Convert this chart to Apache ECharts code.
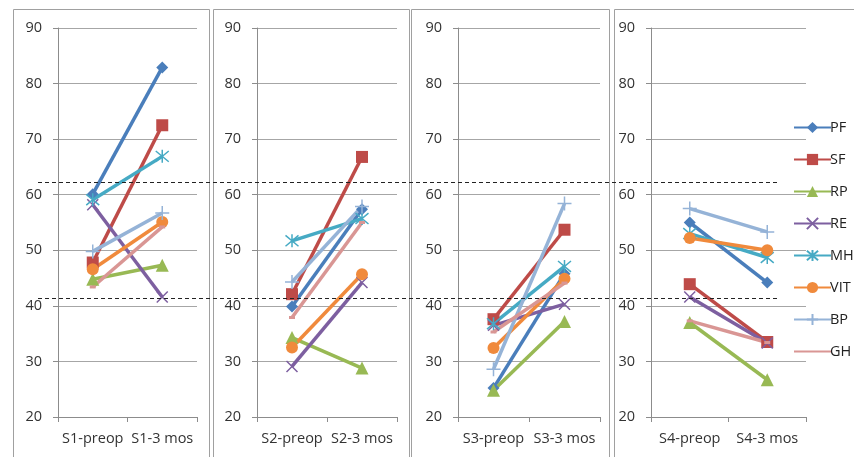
<!DOCTYPE html>
<html>
<head>
<meta charset="utf-8">
<title>SF-36 domains, pre-op vs 3 months</title>
<script src="https://cdn.jsdelivr.net/npm/echarts@6/dist/echarts.min.js"></script>
<style>
  html, body { margin: 0; padding: 0; background: #ffffff; }
  #chart { width: 854px; height: 457px; }
</style>
</head>
<body>
<div id="chart"></div>
<script>
// Category labels for each subject panel
const panelCategories = [
  ['S1-preop', 'S1-3 mos'],
  ['S2-preop', 'S2-3 mos'],
  ['S3-preop', 'S3-3 mos'],
  ['S4-preop', 'S4-3 mos']
];

// Y-axis ticks
const yTicks = [20, 30, 40, 50, 60, 70, 80, 90];

// Domain scores, one [preop, 3 mos] pair per subject (S1..S4)
const PF  = [[60.1, 82.9], [39.9, 57.4], [25.2, 45.8], [55.0, 44.2]];
const SF  = [[47.8, 72.5], [42.1, 66.8], [37.6, 53.7], [43.9, 33.5]];
const RP  = [[44.8, 47.3], [34.3, 28.8], [24.8, 37.2], [37.0, 26.7]];
const RE  = [[58.2, 41.6], [29.1, 44.2], [36.5, 40.3], [41.6, 33.3]];
const MH  = [[59.1, 66.9], [51.7, 55.7], [36.8, 47.1], [53.0, 48.7]];
const VIT = [[46.6, 55.1], [32.5, 45.7], [32.4, 44.9], [52.2, 50.0]];
const BP  = [[49.8, 56.7], [44.3, 57.9], [28.6, 58.4], [57.5, 53.3]];
const GH  = [[43.4, 54.2], [37.9, 55.0], [35.3, 44.1], [37.3, 33.4]];

// Reference band limits drawn as dashed lines
const referenceLevels = [62.3, 41.5];

const domains = [
  { name: 'PF',  data: PF,  color: '#4A7EBB', symbol: 'diamond',  size: 12 },
  { name: 'SF',  data: SF,  color: '#BE4B48', symbol: 'rect',     size: 12 },
  { name: 'RP',  data: RP,  color: '#98B954', symbol: 'triangle', size: 13 },
  { name: 'RE',  data: RE,  color: '#7D5FA0', symbol: 'path://M0,0L10,10M10,0L0,10', size: 11, stroke: true },
  { name: 'MH',  data: MH,  color: '#46AAC4', symbol: 'path://M0,0L10,10M10,0L0,10M5,-1L5,11', size: 13, stroke: true },
  { name: 'VIT', data: VIT, color: '#F08A3C', symbol: 'circle',   size: 12 },
  { name: 'BP',  data: BP,  color: '#95B3D7', symbol: 'path://M5,0L5,10M0,5L10,5', size: 14, stroke: true },
  { name: 'GH',  data: GH,  color: '#D99694', symbol: 'rect',     size: [6, 3], plainLegend: true }
];

// Plot areas of the four panels
const gridBoxes = [
  { left: 58,  top: 28, width: 139, height: 389 },
  { left: 257, top: 28, width: 140, height: 389 },
  { left: 458, top: 28, width: 142, height: 389 },
  { left: 651, top: 28, width: 155, height: 389 }
];

// Outer frames of the panels
const panelFrames = [
  { x: 13.5,  y: 9.5, w: 196, h: 470 },
  { x: 213.5, y: 9.5, w: 196, h: 470 },
  { x: 411.5, y: 9.5, w: 198, h: 470 },
  { x: 614.5, y: 9.5, w: 260, h: 470 }
];

const FONT = 'Open Sans, Noto Sans, sans-serif';
const chart = echarts.init(document.getElementById('chart'), null, { renderer: 'canvas' });

const grids = gridBoxes.map(g => Object.assign({ containLabel: false }, g));

const xAxes = panelCategories.map((cats, i) => ({
  type: 'category',
  gridIndex: i,
  data: cats,
  boundaryGap: true,
  axisLine: { show: true, lineStyle: { color: '#8c8c8c', width: 1 } },
  axisTick: { show: true, length: 5, lineStyle: { color: '#8c8c8c' } },
  axisLabel: { color: '#333', fontSize: 14.5, fontFamily: FONT, margin: 14, interval: 0 },
  splitLine: { show: false }
}));

const yAxes = panelCategories.map((_, i) => ({
  type: 'value',
  gridIndex: i,
  min: yTicks[0],
  max: yTicks[yTicks.length - 1],
  interval: yTicks[1] - yTicks[0],
  axisLine: { show: true, lineStyle: { color: '#8c8c8c', width: 1 } },
  axisTick: { show: true, length: 5, lineStyle: { color: '#8c8c8c' } },
  axisLabel: { color: '#333', fontSize: 14.5, fontFamily: FONT, margin: 16 },
  splitLine: { show: true, lineStyle: { color: '#a6a6a6', width: 1 } }
}));

const series = [];
panelCategories.forEach((_, p) => {
  domains.forEach(d => {
    series.push({
      type: 'line',
      name: d.name,
      xAxisIndex: p,
      yAxisIndex: p,
      data: d.data[p],
      symbol: d.symbol,
      symbolSize: d.size,
      lineStyle: { color: d.color, width: 3.5 },
      itemStyle: d.stroke
        ? { color: d.color, borderColor: d.color, borderWidth: 1.5 }
        : { color: d.color, borderWidth: 0 },
      emphasis: { disabled: true },
      z: 3
    });
  });
});

const frameGraphics = panelFrames.map(f => ({
  type: 'rect',
  shape: { x: f.x, y: f.y, width: f.w, height: f.h },
  style: { fill: 'none', stroke: '#a0a0a0', lineWidth: 1 },
  silent: true,
  z: 0
}));

// Legend entries; GH shows only its line
const legendData = domains.map(d => d.plainLegend
  ? { name: d.name, itemStyle: { opacity: 0 } }
  : { name: d.name });

chart.setOption({
  animation: false,
  backgroundColor: '#ffffff',
  grid: grids,
  xAxis: xAxes,
  yAxis: yAxes,
  legend: {
    data: legendData,
    orient: 'vertical',
    left: 788,
    top: 115,
    itemWidth: 37,
    itemHeight: 14,
    itemGap: 17,
    textStyle: { color: '#222', fontSize: 14.5, fontFamily: FONT, padding: [0, 0, 0, -6] },
    selectedMode: false
  },
  graphic: frameGraphics,
  series: series
});

// Dashed reference levels across all panels, placed through the y scale
const dashed = referenceLevels.map(v => {
  const y = Math.round(chart.convertToPixel({ yAxisIndex: 0 }, v)) + 0.5;
  return {
    type: 'line',
    shape: { x1: 38, y1: y, x2: 780, y2: y },
    style: { stroke: '#222', lineWidth: 1, lineDash: [4, 3] },
    silent: true,
    z: 10
  };
});
chart.setOption({ graphic: frameGraphics.concat(dashed) });
</script>
</body>
</html>
